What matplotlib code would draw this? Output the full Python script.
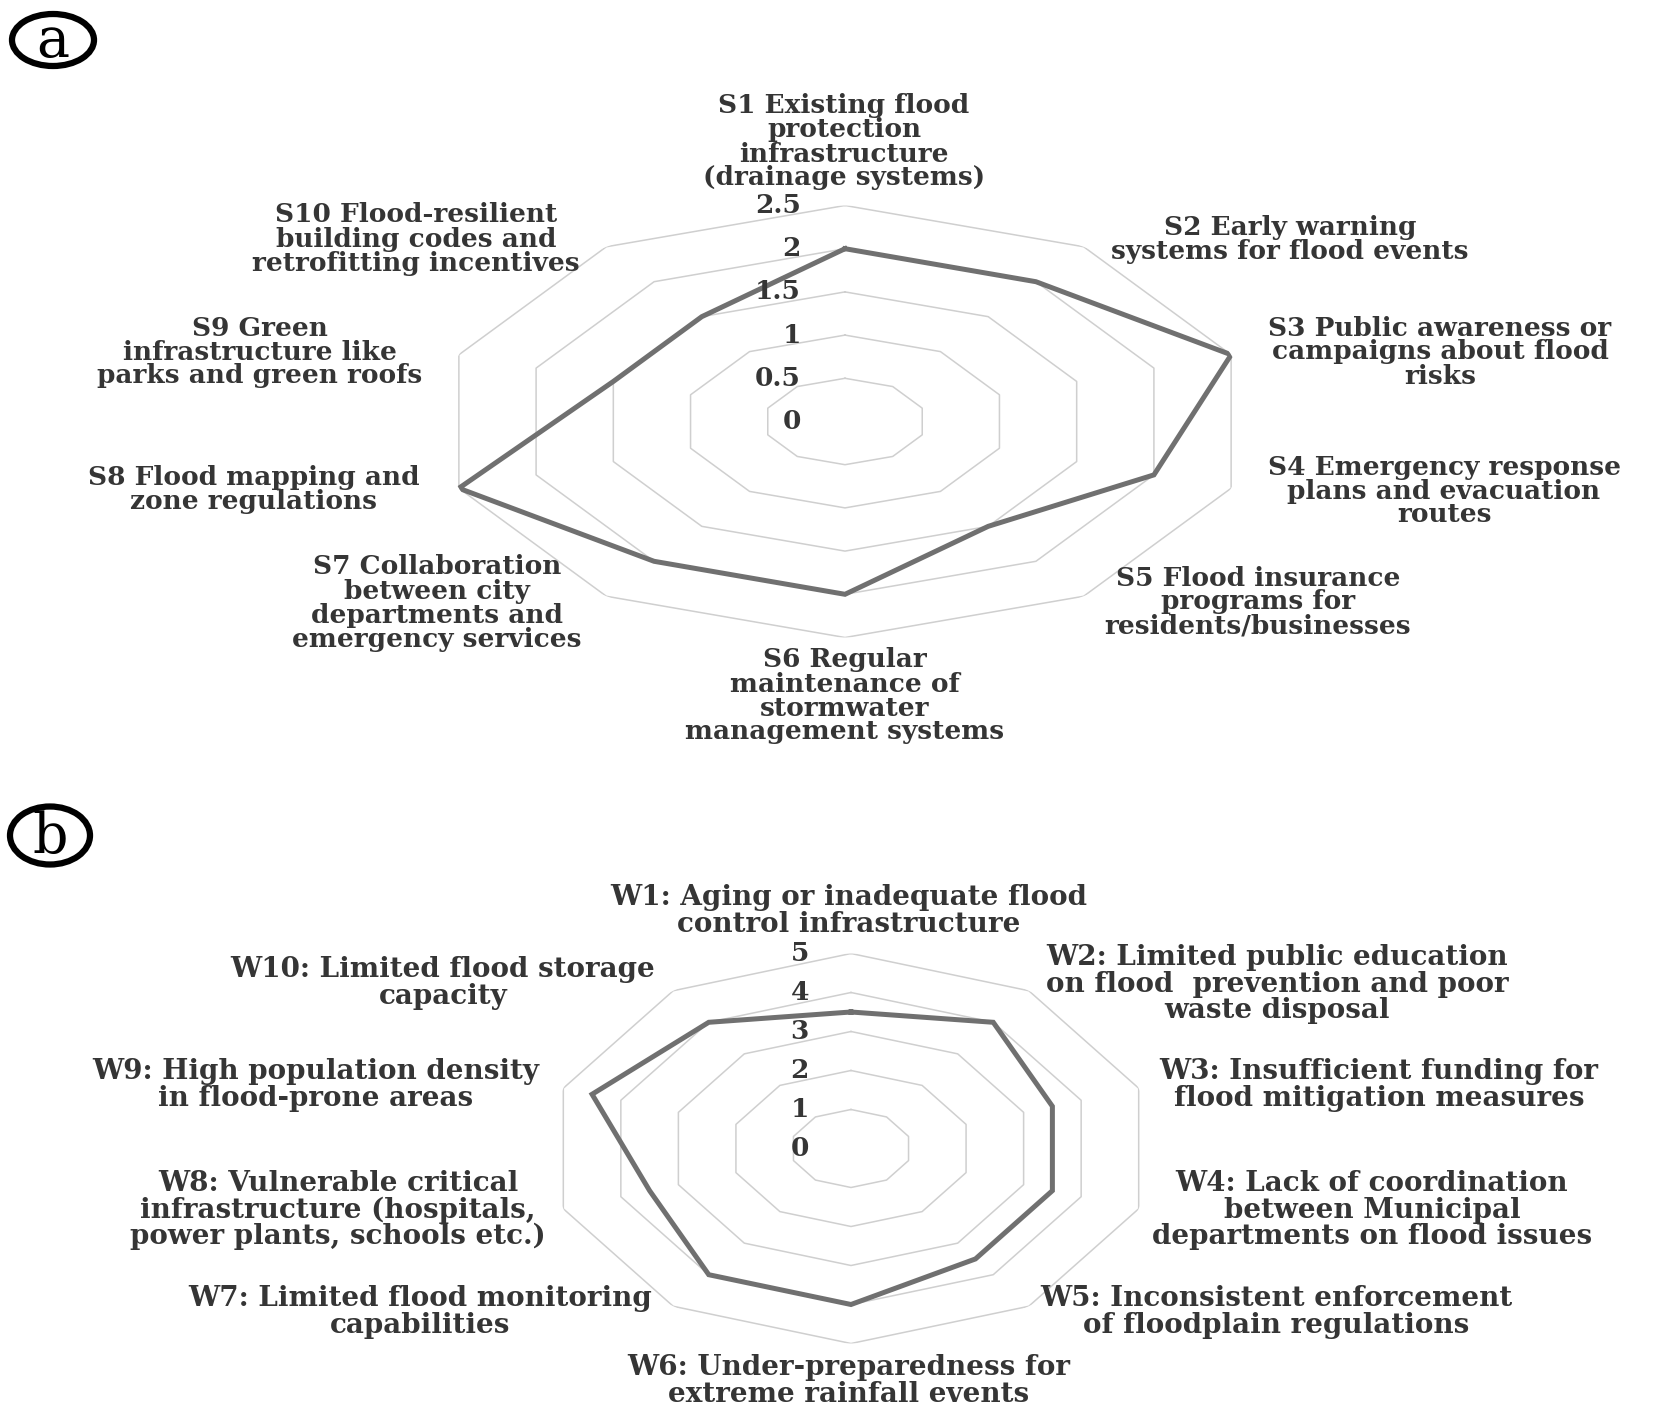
import numpy as np
import matplotlib.pyplot as plt
from matplotlib.patches import Ellipse
from matplotlib.transforms import offset_copy

# tamaño final en pixeles
W, H = 1654, 1418
plt.rcParams['font.family'] = ['DejaVu Serif']
plt.rcParams['font.weight'] = 'bold'

# ---- datos (a) fortalezas ----
s_labels = [
    'S1 Existing flood\nprotection\ninfrastructure\n(drainage systems)',
    'S2 Early warning\nsystems for flood events',
    'S3 Public awareness or\ncampaigns about flood\nrisks',
    'S4 Emergency response\nplans and evacuation\nroutes',
    'S5 Flood insurance\nprograms for\nresidents/businesses',
    'S6 Regular\nmaintenance of\nstormwater\nmanagement systems',
    'S7 Collaboration\nbetween city\ndepartments and\nemergency services',
    'S8 Flood mapping and\nzone regulations',
    'S9 Green\ninfrastructure like\nparks and green roofs',
    'S10 Flood-resilient\nbuilding codes and\nretrofitting incentives',
]
s_values = [2.0, 2.0, 2.5, 2.0, 1.5, 2.0, 2.0, 2.5, 1.5, 1.5]
s_ticks = [0, 0.5, 1, 1.5, 2, 2.5]
s_tick_labels = ['0', '0.5', '1', '1.5', '2', '2.5']

# ---- datos (b) debilidades ----
w_labels = [
    'W1: Aging or inadequate flood\ncontrol infrastructure',
    'W2: Limited public education\non flood  prevention and poor\nwaste disposal',
    'W3: Insufficient funding for\nflood mitigation measures',
    'W4: Lack of coordination\nbetween Municipal\ndepartments on flood issues',
    'W5: Inconsistent enforcement\nof floodplain regulations',
    'W6: Under-preparedness for\nextreme rainfall events',
    'W7: Limited flood monitoring\ncapabilities',
    'W8: Vulnerable critical\ninfrastructure (hospitals,\npower plants, schools etc.)',
    'W9: High population density\nin flood-prone areas',
    'W10: Limited flood storage\ncapacity',
]
w_values = [3.5, 4.0, 3.5, 3.5, 3.5, 4.0, 4.0, 3.5, 4.5, 4.0]
w_ticks = [0, 1, 2, 3, 4, 5]
w_tick_labels = ['0', '1', '2', '3', '4', '5']

# posiciones de las etiquetas (pixeles, centro del bloque de texto)
s_label_pos = [(844, 142), (1290, 239), (1440, 352), (1444, 491), (1258, 602),
               (845, 696), (437, 603), (254, 490), (260, 352), (416, 239)]
w_label_pos = [(849, 911), (1277, 984), (1379, 1085), (1372, 1210), (1276, 1312),
               (849, 1381), (420, 1312), (338, 1210), (316, 1085), (443, 983)]

color_texto = '#353535'
color_linea = '#707070'
color_grid = '#cfcfcf'

fig = plt.figure(figsize=(W / 100, H / 100), dpi=100)


def radar(rect, labels, values, ticks, tick_labels, label_pos, fs, tick_dx, lsp):
    # rect en pixeles: centro x, centro y, radio horizontal, radio vertical
    cx, cy, rh, rv = rect
    ax = fig.add_axes([(cx - rh) / W, 1 - (cy + rv) / H, 2 * rh / W, 2 * rv / H],
                      projection='polar')
    ax.set_aspect('auto')
    ax.set_theta_offset(np.pi / 2)
    ax.set_theta_direction(-1)
    n = len(values)
    ang = np.linspace(0, 2 * np.pi, n, endpoint=False)
    ang_c = np.append(ang, ang[0])
    for t in ticks[1:]:
        ax.plot(ang_c, [t] * (n + 1), color=color_grid, lw=1.1, zorder=1)
    ax.plot(ang_c, values + values[:1], color=color_linea, lw=3.6,
            solid_joinstyle='miter', zorder=3)
    ax.set_ylim(0, ticks[-1])
    ax.set_xticks([])
    ax.set_yticks([])
    ax.grid(False)
    ax.spines['polar'].set_visible(False)
    ax.patch.set_alpha(0)
    tr = offset_copy(ax.transData, fig=fig, x=-tick_dx, y=0, units='dots')
    for t, tl in zip(ticks, tick_labels):
        ax.text(0, t, tl, transform=tr, ha='right', va='center',
                fontsize=19, color=color_texto, zorder=4)
    for lab, (x, y) in zip(labels, label_pos):
        fig.text(x / W, 1 - y / H, lab, ha='center', va='center',
                 multialignment='center', fontsize=fs, color=color_texto,
                 linespacing=lsp)
    return ax


radar((845, 421.5, 406, 216), s_labels, s_values, s_ticks, s_tick_labels,
      s_label_pos, 19, 44, 0.95)
radar((851, 1148.5, 302.5, 195), w_labels, w_values, w_ticks, w_tick_labels,
      w_label_pos, 20, 42, 0.97)

# letras de panel dentro de elipses
for letra, (x, y, ew, eh) in zip(['a', 'b'], [(53, 40, 82, 52), (50, 835.5, 80, 58)]):
    fig.patches.append(Ellipse((x / W, 1 - y / H), ew / W, eh / H, transform=fig.transFigure,
                               fill=False, lw=4.5, ec='black'))
    fig.text(x / W, 1 - (y + 2) / H, letra, ha='center', va='center',
             fontsize=40, fontweight='normal', color='black')

fig.savefig('out.png', dpi=100)
